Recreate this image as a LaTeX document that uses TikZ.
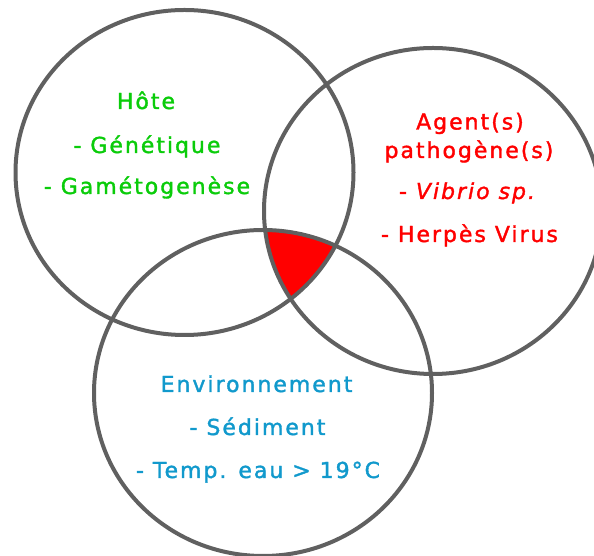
\documentclass[tikz,border=0pt]{standalone}
\usepackage{fontspec}
\newfontfamily\vfont{DejaVu Sans}[LetterSpace=9,FakeBold=1.6]
\definecolor{ringgray}{RGB}{96,96,96}
\definecolor{hostgreen}{RGB}{10,204,10}
\definecolor{agentred}{RGB}{255,0,0}
\definecolor{envblue}{RGB}{17,153,204}
\tikzset{
  ring/.style={draw=ringgray, line width=4pt},
  lbl/.style={anchor=base, inner sep=0pt, font=\vfont\fontsize{22}{26}\selectfont},
  host/.style={lbl, text=hostgreen},
  agent/.style={lbl, text=agentred},
  env/.style={lbl, text=envblue}
}
\begin{document}
\begin{tikzpicture}[x=1pt,y=1pt]
\useasboundingbox (0,0) rectangle (594,556);
\coordinate (c1) at (184.5,383.5);
\coordinate (c2) at (433,345);
\coordinate (c3) at (263,163);
\begin{scope}
  \clip (c1) ellipse [x radius=169pt, y radius=162.5pt];
  \clip (c2) ellipse [x radius=169pt, y radius=163pt];
  \fill[agentred] (c3) ellipse [x radius=169pt, y radius=163pt];
\end{scope}
\draw[ring] (c1) ellipse [x radius=169pt, y radius=162.5pt];
\draw[ring] (c2) ellipse [x radius=169pt, y radius=163pt];
\draw[ring] (c3) ellipse [x radius=169pt, y radius=163pt];
% Host
\node[host] (h1) at (146,447) {Hôte};
\node[host] (h2) at (147,403) {- Génétique};
\node[host] (h3) at (147,362) {- Gamétogenèse};
% Agent
\node[agent] (a1) at (470,426.5) {Agent(s)};
\node[agent] (a2) at (469,398) {pathogène(s)};
\node[agent] (a3) at (468,357) {- \textit{Vibrio sp.}};
\node[agent] (a4) at (469.5,314) {- Herpès Virus};
% Environment
\node[env] (e1) at (256.5,164) {Environnement};
\node[env] (e2) at (257.5,121) {- Sédiment};
\node[env] (e3) at (258,78) {- Temp. eau > 19°C};
\end{tikzpicture}
\end{document}
